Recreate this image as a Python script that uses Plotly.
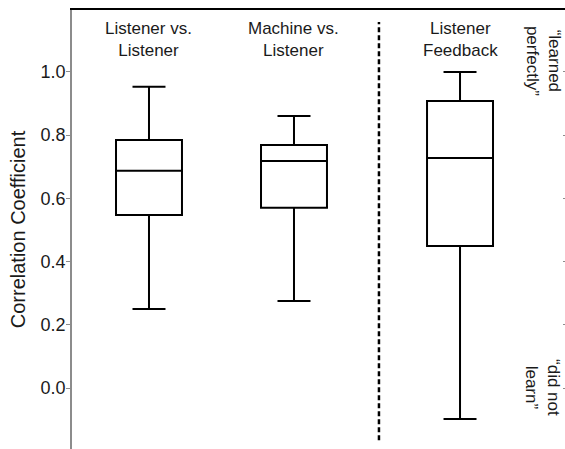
import plotly.graph_objects as go

# ---- data ----
categories = ["Listener vs.<br>Listener", "Machine vs.<br>Listener", "Listener<br>Feedback"]
upper_whisker = [0.953, 0.861, 1.000]
q3_values = [0.785, 0.769, 0.908]
medians = [0.687, 0.718, 0.728]
q1_values = [0.547, 0.570, 0.449]
lower_whisker = [0.250, 0.275, -0.098]
tick_values = [0.0, 0.2, 0.4, 0.6, 0.8, 1.0]
tick_labels = ["0.0", "0.2", "0.4", "0.6", "0.8", "1.0"]
scale_labels = ["\u201clearned<br>perfectly\u201d", "\u201cdid not<br>learn\u201d"]
scale_values = [1.0, 0.0]

# ---- layout constants ----
x_positions = [1.0, 2.0, 3.145]
divider_x = 2.586
x_range = [0.469, 3.869]
y_range = [-0.193, 1.196]
scale_label_offsets = [0.035, -0.0]
font_family = "Liberation Sans, Arial, Helvetica, sans-serif"
txt = "#1a1a1a"

fig = go.Figure()
for i, cat in enumerate(categories):
    fig.add_trace(go.Box(
        x=[x_positions[i]],
        q1=[q1_values[i]], median=[medians[i]], q3=[q3_values[i]],
        lowerfence=[lower_whisker[i]], upperfence=[upper_whisker[i]],
        width=0.455, whiskerwidth=0.5,
        line=dict(color="black", width=2),
        fillcolor="rgba(0,0,0,0)",
        boxpoints=False, hoverinfo="skip", showlegend=False,
    ))
    fig.add_annotation(
        x=x_positions[i], y=1.103, xref="x", yref="y",
        text=cat, showarrow=False, xanchor="center", yanchor="middle",
        font=dict(family=font_family, size=17, color=txt),
    )

# invisible trace to activate right axis
fig.add_trace(go.Scatter(x=[x_range[0]], y=[0], yaxis="y2", mode="markers",
                         marker=dict(opacity=0), showlegend=False, hoverinfo="skip"))

# dotted divider
fig.add_shape(type="line", xref="x", yref="y", x0=divider_x, x1=divider_x,
              y0=-0.165, y1=1.158,
              line=dict(color="black", width=2.5, dash="5px,3px"))

for lab, val, off in zip(scale_labels, scale_values, scale_label_offsets):
    fig.add_annotation(
        x=3.717, y=val + off, xref="x", yref="y",
        text=lab, textangle=90, showarrow=False,
        xanchor="center", yanchor="middle",
        font=dict(family=font_family, size=17, color=txt),
    )

fig.update_layout(
    width=565, height=449,
    margin=dict(l=72, r=0, t=10, b=0),
    paper_bgcolor="white", plot_bgcolor="white",
    font=dict(family=font_family, color=txt),
    xaxis=dict(range=x_range, side="top", showline=True, linecolor="black",
               linewidth=1.8, showticklabels=False, ticks="", showgrid=False,
               zeroline=False),
    yaxis=dict(range=y_range, tickvals=tick_values, ticktext=tick_labels,
               showline=True, linecolor="#8c8c8c", linewidth=1.5,
               ticks="outside", ticklen=4, tickcolor="#8c8c8c", tickwidth=1,
               ticklabelstandoff=-3,
               tickfont=dict(size=18, color=txt), showgrid=False, zeroline=False,
               title=dict(text="Correlation Coefficient", font=dict(size=20, color=txt),
                          standoff=10)),
    yaxis2=dict(range=y_range, overlaying="y", side="right", tickvals=tick_values,
                showticklabels=False, ticks="inside", ticklen=2, tickcolor="#8c8c8c",
                showline=False, showgrid=False, zeroline=False),
)

fig.write_html(
    "out.html",
    config={"displayModeBar": False},
    post_script="document.body.style.margin='0px';document.body.style.overflow='hidden';",
)
